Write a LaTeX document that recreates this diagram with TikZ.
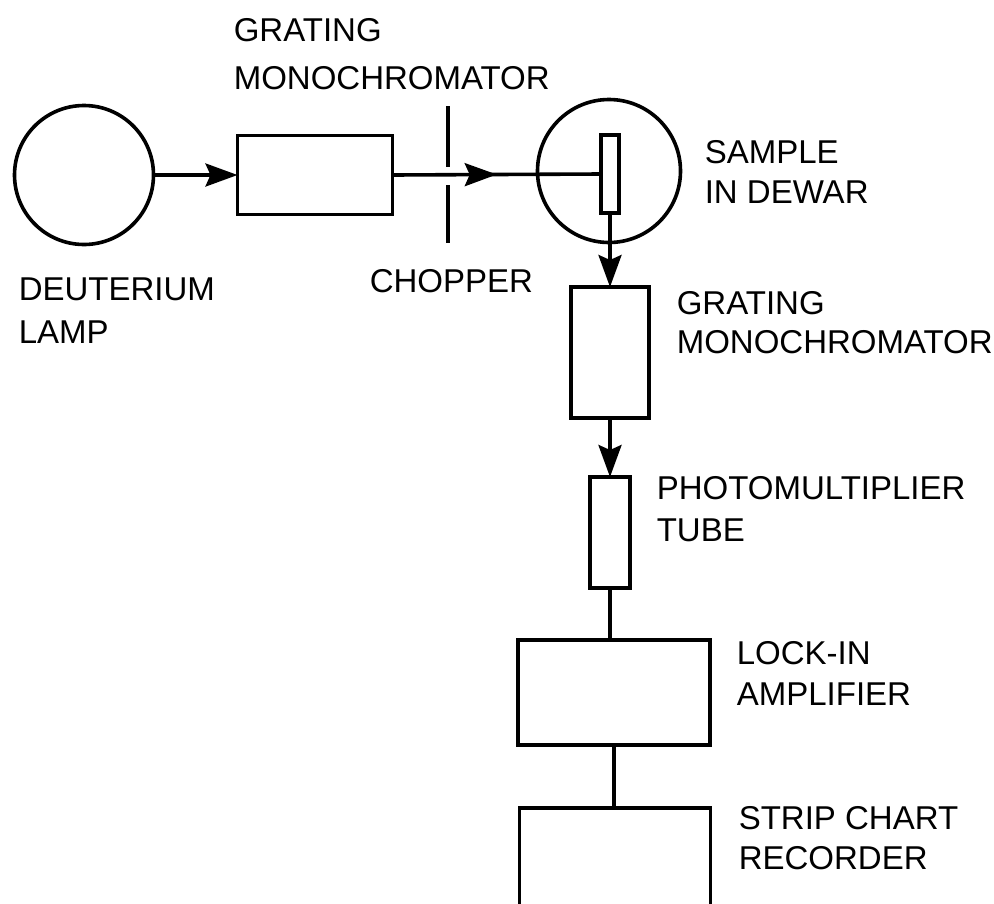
\documentclass[tikz,border=0pt]{standalone}
\usepackage{fontspec}
\setmainfont{Liberation Sans}
\usetikzlibrary{arrows.meta,decorations.markings}
\newcommand\labfont[1]{\fontsize{33}{#1}\selectfont}
\begin{document}
\begin{tikzpicture}[x=1pt,y=-1pt, line width=3.6pt,
  box/.style={draw, rectangle, inner sep=0pt, outer sep=0pt},
  ring/.style={draw, circle, inner sep=0pt, outer sep=0pt},
  lbl/.style={anchor=north west, inner sep=0pt, align=left},
  tipend/.style={-{Stealth[length=32pt,width=23pt,inset=5pt]}},
  midtip/.style={postaction={decorate},decoration={markings,
     mark=at position #1 with {\arrow{Stealth[length=32pt,width=23pt,inset=5pt]}}}},
  ]
\clip (0,0) rectangle (994,903);
\fill[white] (0,0) rectangle (994,903);

% components
\node[ring, minimum size=139pt] (lamp) at (84,175) {};
\node[box, minimum width=155pt, minimum height=79pt] (mono1) at (315,175) {};
\node[ring, minimum size=143pt] (dewar) at (609,171) {};
\node[box, minimum width=18pt, minimum height=78pt] (sample) at (610,174) {};
\node[box, minimum width=78pt, minimum height=131pt] (mono2) at (610,352.5) {};
\node[box, minimum width=40pt, minimum height=111pt] (pmt) at (610,532.5) {};
\node[box, minimum width=192pt, minimum height=105pt] (lockin) at (614,692.5) {};
\node[box, minimum width=191pt, minimum height=140pt] (strip) at (615,878) {};

% chopper blades
\draw (448,106) -- (448,167);
\draw (448,185) -- (448,243);

% connectors
\draw[tipend] (lamp.east) -- (mono1.west);
\draw[midtip=0.5] (mono1.east) -- (sample.west);
\draw[tipend] (sample.south) -- (mono2.north);
\draw[tipend] (mono2.south) -- (pmt.north);
\draw (pmt.south) -- (pmt.south |- lockin.north);
\draw (lockin.south) -- (lockin.south |- strip.north);

% labels
\node[lbl, font=\labfont{48}] (t1) at (232,17) {GRATING\\MONOCHROMATOR};
\node[lbl, font=\labfont{43}] (t2) at (17,276) {DEUTERIUM\\LAMP};
\node[lbl, font=\labfont{40}] (t3) at (368,268) {CHOPPER};
\node[lbl, font=\labfont{40}] (t4) at (703,139) {SAMPLE\\IN DEWAR};
\node[lbl, font=\labfont{39}] (t5) at (675,290) {GRATING\\MONOCHROMATOR};
\node[lbl, font=\labfont{42}] (t6) at (655,475) {PHOTOMULTIPLIER\\TUBE};
\node[lbl, font=\labfont{41}] (t7) at (735,640) {LOCK-IN\\AMPLIFIER};
\node[lbl, font=\labfont{40}] (t8) at (737,805) {STRIP CHART\\RECORDER};
\end{tikzpicture}
\end{document}
